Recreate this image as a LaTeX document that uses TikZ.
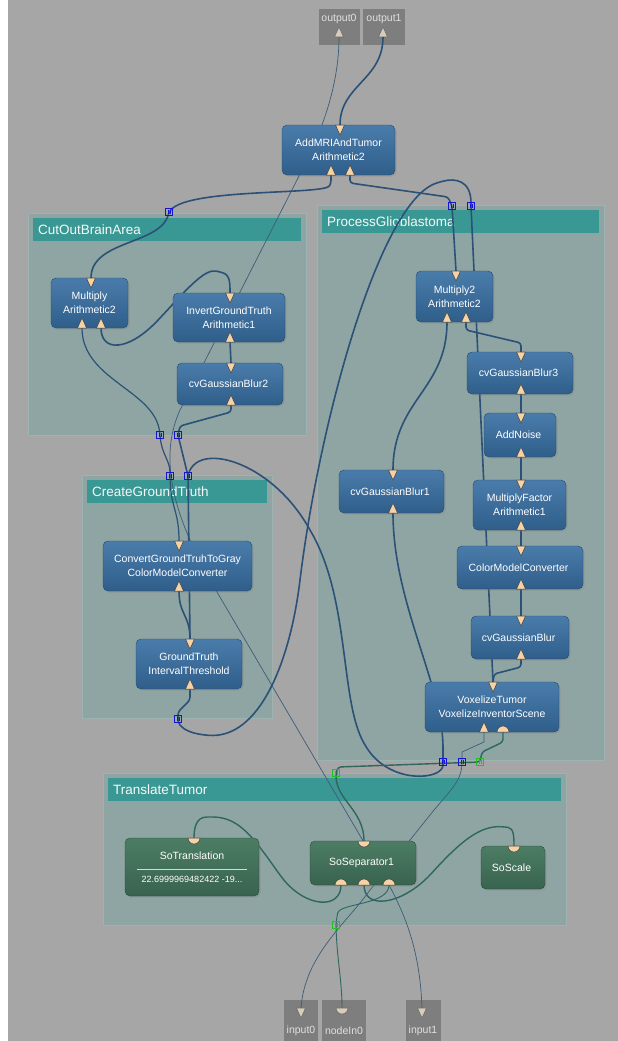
\documentclass[tikz,border=0pt]{standalone}
\usepackage{fontspec}
\setmainfont{Liberation Sans}
\usetikzlibrary{
    positioning,
    shadows
}

\definecolor{canvasgray}{HTML}{A6A6A6}
\definecolor{panelfill}{HTML}{8FA5A3}
\definecolor{paneledge}{HTML}{9DB3B1}
\definecolor{headerteal}{HTML}{3A9894}
\definecolor{moduletop}{HTML}{4A7CAB}
\definecolor{modulebottom}{HTML}{2F5E8A}
\definecolor{moduleedge}{HTML}{24486C}
\definecolor{inventortop}{HTML}{4C7D64}
\definecolor{inventorbottom}{HTML}{39634F}
\definecolor{inventoredge}{HTML}{2A4A3A}
\definecolor{pinfill}{HTML}{F6D3A6}
\definecolor{macropinfill}{HTML}{D8CDBB}
\definecolor{imageline}{HTML}{2B5177}
\definecolor{thinline}{HTML}{3B5D78}
\definecolor{sceneline}{HTML}{2E675F}
\definecolor{macrobox}{HTML}{7E7E7E}
\definecolor{portblue}{HTML}{1414D2}
\definecolor{portgreen}{HTML}{22C022}

\newcommand{\modulefont}{\fontsize{10.5}{14}\selectfont}

\begin{document}
\begin{tikzpicture}[
    x=1pt,
    y=-1pt,
    panel/.style={
        rectangle,
        draw=paneledge,
        fill=panelfill,
        anchor=north west,
        inner sep=0pt
    },
    header/.style={
        rectangle,
        fill=headerteal,
        anchor=north west,
        inner sep=0pt,
        minimum height=23pt
    },
    grouptitle/.style={
        anchor=west,
        text=white!94!headerteal,
        font=\fontsize{13.5}{15}\selectfont,
        inner sep=0pt
    },
    module/.style={
        rectangle,
        rounded corners=5pt,
        draw=moduleedge,
        top color=moduletop,
        bottom color=modulebottom,
        text=white,
        align=center,
        font=\modulefont,
        inner sep=0pt,
        drop shadow={shadow xshift=1.5pt, shadow yshift=-1.5pt, opacity=0.3}
    },
    inventor/.style={
        module,
        draw=inventoredge,
        top color=inventortop,
        bottom color=inventorbottom
    },
    macro/.style={
        rectangle,
        fill=macrobox,
        anchor=north west,
        inner sep=0pt
    },
    macrolabel/.style={
        text=white!88!black,
        font=\modulefont,
        inner sep=0pt
    },
    imgwire/.style={
        draw=imageline,
        line width=1.6pt,
        rounded corners=3pt
    },
    thinwire/.style={
        draw=thinline,
        line width=0.7pt
    },
    scenewire/.style={
        draw=sceneline,
        line width=1.4pt,
        rounded corners=3pt
    },
    pin/.style={
        fill=pinfill,
        draw=black!75,
        line width=0.5pt
    },
    macropin/.style={
        fill=macropinfill,
        draw=black!60,
        line width=0.5pt
    },
    portbox/.style={
        draw=portblue,
        line width=1pt
    },
    scenebox/.style={
        draw=portgreen,
        line width=1pt
    }
]

\useasboundingbox (0,0) rectangle (618,1041);
\fill[canvasgray] (0,0) rectangle (618,1041);
\fill[white] (0,0) rectangle (8,1041);

% groups

\node[panel, minimum width=278pt, minimum height=222pt] (cutoutpanel) at (28,213) {};
\node[header, minimum width=268pt] (cutouthead) at (33,218) {};
\node[grouptitle] (cutouttitle) at ([xshift=5pt]cutouthead.west) {CutOutBrainArea};

\node[panel, minimum width=287pt, minimum height=555pt] (glioblastomapanel) at (317,205) {};
\node[header, minimum width=277pt] (glioblastomahead) at (322,210) {};
\node[grouptitle] (glioblastomatitle) at ([xshift=5pt]glioblastomahead.west) {ProcessGlioblastoma};

\node[panel, minimum width=190pt, minimum height=243pt] (groundtruthpanel) at (82,475) {};
\node[header, minimum width=180pt] (groundtruthhead) at (87,480) {};
\node[grouptitle] (groundtruthtitle) at ([xshift=5pt]groundtruthhead.west) {CreateGroundTruth};

\node[panel, minimum width=463pt, minimum height=152pt] (translatepanel) at (103,773) {};
\node[header, minimum width=453pt] (translatehead) at (108,778) {};
\node[grouptitle] (translatetitle) at ([xshift=5pt]translatehead.west) {TranslateTumor};

% macro inputs and outputs

\node[macro, minimum width=41pt, minimum height=36pt] (output0) at (319,9) {};
\node[macro, minimum width=42pt, minimum height=36pt] (output1) at (363,9) {};
\node[macro, minimum width=34pt, minimum height=41pt] (input0) at (284,1000) {};
\node[macro, minimum width=44pt, minimum height=41pt] (nodein0) at (322,1000) {};
\node[macro, minimum width=35pt, minimum height=41pt] (input1) at (406,1000) {};

% pins

\coordinate (out0-in) at (339,37);
\coordinate (out1-in) at (383,37);
\coordinate (in0-out) at (301,1008);
\coordinate (nodein0-out) at (342,1008);
\coordinate (in1-out) at (422,1008);

\coordinate (addmri-out) at (340,125);
\coordinate (addmri-in1) at (331,175);
\coordinate (addmri-in2) at (350,175);
\coordinate (multiply-out) at (91,278);
\coordinate (multiply-in1) at (82,328);
\coordinate (multiply-in2) at (101,328);
\coordinate (invert-out) at (230,293);
\coordinate (invert-in) at (230,342);
\coordinate (blur2-out) at (231,363);
\coordinate (blur2-in) at (231,405);
\coordinate (multiply2-out) at (456,271);
\coordinate (multiply2-in1) at (447,322);
\coordinate (multiply2-in2) at (466,322);
\coordinate (blur3-out) at (521,352);
\coordinate (blur3-in) at (521,394);
\coordinate (noise-out) at (521,413);
\coordinate (noise-in) at (521,457);
\coordinate (blur1-out) at (393,470);
\coordinate (blur1-in) at (393,513);
\coordinate (factor-out) at (521,480);
\coordinate (factor-in) at (521,530);
\coordinate (converter-out) at (521,546);
\coordinate (converter-in) at (521,589);
\coordinate (blur-out) at (521,616);
\coordinate (blur-in) at (521,659);
\coordinate (voxelize-out) at (493,682);
\coordinate (voxelize-in) at (484,732);
\coordinate (voxelize-scene) at (503,732);
\coordinate (convert-out) at (179,541);
\coordinate (convert-in) at (179,591);
\coordinate (threshold-out) at (190,639);
\coordinate (threshold-in) at (190,689);
\coordinate (translation-out) at (194,838);
\coordinate (separator-out) at (364,841);
\coordinate (separator-in1) at (341,885);
\coordinate (separator-in2) at (364,885);
\coordinate (separator-in3) at (389,885);
\coordinate (scale-out) at (514,846);

% group ports

\coordinate (cut-top) at (169,212);
\coordinate (cut-low1) at (160,435);
\coordinate (cut-low2) at (178,435);
\coordinate (gt-top1) at (170,476);
\coordinate (gt-top2) at (188,476);
\coordinate (gt-low) at (178,719);
\coordinate (pg-top1) at (452,206);
\coordinate (pg-top2) at (471,206);
\coordinate (pg-low1) at (443,762);
\coordinate (pg-low2) at (462,762);
\coordinate (pg-low3) at (480,762);
\coordinate (tt-top) at (336,773);
\coordinate (tt-low) at (336,925);

% wires between the groups

\draw[imgwire] (out1-in) .. controls (383,80) and (340,85) .. (addmri-out);

\draw[thinwire] (in1-out) .. controls (420,950) and (405,915) .. (389,885)
    -- (217,592) .. controls (180,529) and (155,465) .. (180,410)
    -- (298,178) .. controls (310,154) and (339,100) .. (out0-in);

\draw[imgwire] (addmri-in1) -- ++(0,8)
    .. controls (325,195) and (190,188) .. (cut-top)
    .. controls (160,245) and (91,240) .. (multiply-out);

\draw[imgwire] (addmri-in2) -- ++(0,8) -- (448,197) -- (pg-top1) -- (multiply2-out);

\draw[imgwire] (voxelize-out) -- (pg-top2)
    .. controls (471,180) and (455,178) .. (440,182)
    .. controls (380,200) and (320,420) .. (300,580)
    .. controls (290,660) and (260,740) .. (205,735)
    .. controls (190,733) and (178,728) .. (gt-low);

\draw[imgwire] (gt-low) -- ++(0,-7) -- (190,700) -- (threshold-in);

% wires inside ProcessGlioblastoma

\draw[imgwire] (blur3-in) -- (noise-out);
\draw[imgwire] (noise-in) -- (factor-out);
\draw[imgwire] (factor-in) -- (converter-out);
\draw[imgwire] (converter-in) -- (blur-out);
\draw[imgwire] (blur-in) -- ++(0,8) -- (494,674) -- (voxelize-out);
\draw[imgwire] (multiply2-in2) -- ++(0,8) -- (521,343) -- (blur3-out);
\draw[imgwire] (multiply2-in1) .. controls (447,390) and (393,400) .. (blur1-out);

\draw[imgwire] (blur1-in) .. controls (393,600) and (440,680) .. (443,745) -- (pg-low1)
    .. controls (443,780) and (390,785) .. (365,745)
    .. controls (340,700) and (350,600) .. (310,530)
    .. controls (270,460) and (195,440) .. (gt-top2);

% wires inside CutOutBrainArea and CreateGroundTruth

\draw[imgwire] (gt-top2) -- (threshold-out);
\draw[imgwire] (invert-in) -- (blur2-out);
\draw[imgwire] (blur2-in) -- ++(0,7) -- (180,426) -- (cut-low2) -- (gt-top2);

\draw[imgwire] (multiply-in2) .. controls (101,352) and (128,352) .. (160,318)
    .. controls (188,288) and (205,268) .. (220,272)
    .. controls (230,275) and (230,283) .. (invert-out);

\draw[imgwire, line width=1.2pt] (multiply-in1) .. controls (82,380) and (155,390) .. (cut-low1)
    .. controls (162,455) and (170,460) .. (gt-top1)
    .. controls (171,510) and (179,510) .. (convert-out);

\draw[imgwire] (convert-in) .. controls (179,615) and (190,615) .. (threshold-out);

% scene wires

\draw[scenewire] (voxelize-scene) -- ++(0,10) -- (482,752) -- (pg-low3) -- (338,767) -- (tt-top)
    .. controls (336,800) and (364,810) .. (separator-out);

\draw[scenewire] (separator-in1) .. controls (341,910) and (305,908) .. (280,875)
    .. controls (255,840) and (240,817) .. (210,817)
    .. controls (196,817) and (194,828) .. (translation-out);

\draw[scenewire] (separator-in2) .. controls (364,910) and (400,905) .. (430,875)
    .. controls (460,842) and (480,825) .. (505,827)
    .. controls (514,828) and (514,838) .. (scale-out);

\draw[scenewire, line width=0.9pt] (separator-in3) .. controls (389,905) and (340,903) .. (337,916) -- (tt-low)
    .. controls (337,960) and (342,980) .. (nodein0-out);

\draw[thinwire] (in0-out) .. controls (305,955) and (345,925) .. (370,890)
    -- (430,815) .. controls (450,790) and (462,782) .. (pg-low2)
    -- ++(0,-10) -- (484,742) -- (voxelize-in);

% port squares

\foreach \p in {cut-top, cut-low1, cut-low2, gt-top1, gt-top2, gt-low, pg-top1, pg-top2, pg-low1, pg-low2} {
    \draw[portbox] ([shift={(-3.5,-3.5)}]\p) rectangle ++(7,7);
    \draw[portbox, line width=0.4pt] ([shift={(-1.2,-2)}]\p) -- ++(0,4) ([shift={(1.2,-2)}]\p) -- ++(0,4);
}
\foreach \p in {pg-low3, tt-top, tt-low} {
    \draw[scenebox] ([shift={(-3.5,-3.5)}]\p) rectangle ++(7,7);
    \draw[scenebox, line width=0.4pt] ([shift={(-1.2,-2)}]\p) -- ++(0,4) ([shift={(1.2,-2)}]\p) -- ++(0,4);
}

% modules

\node[module, minimum width=113pt, minimum height=50pt] (addmri) at (338.5,150) {
    AddMRIAndTumor\\
    Arithmetic2
};

\node[module, minimum width=77pt, minimum height=50pt] (multiply) at (89.5,303) {
    Multiply\\
    Arithmetic2
};

\node[module, minimum width=112pt, minimum height=49pt] (invertgt) at (229,317.5) {
    InvertGroundTruth\\
    Arithmetic1
};

\node[module, minimum width=106pt, minimum height=42pt] (blur2) at (230,384) {
    cvGaussianBlur2
};

\node[module, minimum width=77pt, minimum height=51pt] (multiply2) at (454.5,296.5) {
    Multiply2\\
    Arithmetic2
};

\node[module, minimum width=106pt, minimum height=42pt] (blur3) at (520,373) {
    cvGaussianBlur3
};

\node[module, minimum width=72pt, minimum height=44pt] (addnoise) at (520,435) {
    AddNoise
};

\node[module, minimum width=105pt, minimum height=43pt] (blur1) at (391.5,491.5) {
    cvGaussianBlur1
};

\node[module, minimum width=93pt, minimum height=50pt] (multiplyfactor) at (519.5,505) {
    MultiplyFactor\\
    Arithmetic1
};

\node[module, minimum width=126pt, minimum height=43pt] (colorconverter) at (520,567.5) {
    ColorModelConverter
};

\node[module, minimum width=98pt, minimum height=43pt] (blur) at (520,637.5) {
    cvGaussianBlur
};

\node[module, minimum width=134pt, minimum height=50pt] (voxelize) at (492,707) {
    VoxelizeTumor\\
    VoxelizeInventorScene
};

\node[module, minimum width=149pt, minimum height=50pt] (convertgt) at (177.5,566) {
    ConvertGroundTruhToGray\\
    ColorModelConverter
};

\node[module, minimum width=106pt, minimum height=50pt] (threshold) at (189,664) {
    GroundTruth\\
    IntervalThreshold
};

\node[inventor, minimum width=134pt, minimum height=58pt] (sotranslation) at (192,867) {
    SoTranslation\\[-3pt]
    \textcolor{white!85!black}{\rule{110pt}{0.8pt}}\\[-2pt]
    {\fontsize{9}{10}\selectfont 22.6999969482422 -19...}
};

\node[inventor, minimum width=106pt, minimum height=44pt] (soseparator) at (363,863) {
    SoSeparator1
};

\node[inventor, minimum width=64pt, minimum height=43pt] (soscale) at (513,867.5) {
    SoScale
};

% pin shapes

\foreach \p in {addmri-out, multiply-out, invert-out, blur2-out, multiply2-out, blur3-out, noise-out, blur1-out, factor-out, converter-out, blur-out, voxelize-out, convert-out, threshold-out}
    \filldraw[pin] (\p) -- ++(-4.5,0) -- ++(4.5,10) -- ++(4.5,-10) -- cycle;

\foreach \p in {addmri-in1, addmri-in2, multiply-in1, multiply-in2, invert-in, blur2-in, multiply2-in1, multiply2-in2, blur3-in, noise-in, blur1-in, factor-in, converter-in, blur-in, voxelize-in, convert-in, threshold-in}
    \filldraw[pin] (\p) -- ++(-4.5,0) -- ++(4.5,-10) -- ++(4.5,10) -- cycle;

\foreach \p in {translation-out, separator-out, scale-out}
    \filldraw[pin] (\p) ++(-6,0) arc[start angle=180, end angle=360, radius=6pt] -- cycle;

\foreach \p in {voxelize-scene, separator-in1, separator-in2, separator-in3}
    \filldraw[pin] (\p) ++(-6,0) arc[start angle=180, end angle=0, radius=6pt] -- cycle;

\foreach \p in {out0-in, out1-in}
    \filldraw[macropin] (\p) -- ++(-4.5,0) -- ++(4.5,-10) -- ++(4.5,10) -- cycle;

\foreach \p in {in0-out, in1-out}
    \filldraw[macropin] (\p) -- ++(-4.5,0) -- ++(4.5,10) -- ++(4.5,-10) -- cycle;

\filldraw[macropin] (nodein0-out) ++(-6,0) arc[start angle=180, end angle=360, radius=6pt] -- cycle;

% macro labels

\node[macrolabel] (output0label) at (339,19) {output0};
\node[macrolabel] (output1label) at (384,19) {output1};
\node[macrolabel] (input0label) at (301,1031) {input0};
\node[macrolabel] (nodein0label) at (344,1031) {nodeIn0};
\node[macrolabel] (input1label) at (423,1031) {input1};

\end{tikzpicture}
\end{document}
